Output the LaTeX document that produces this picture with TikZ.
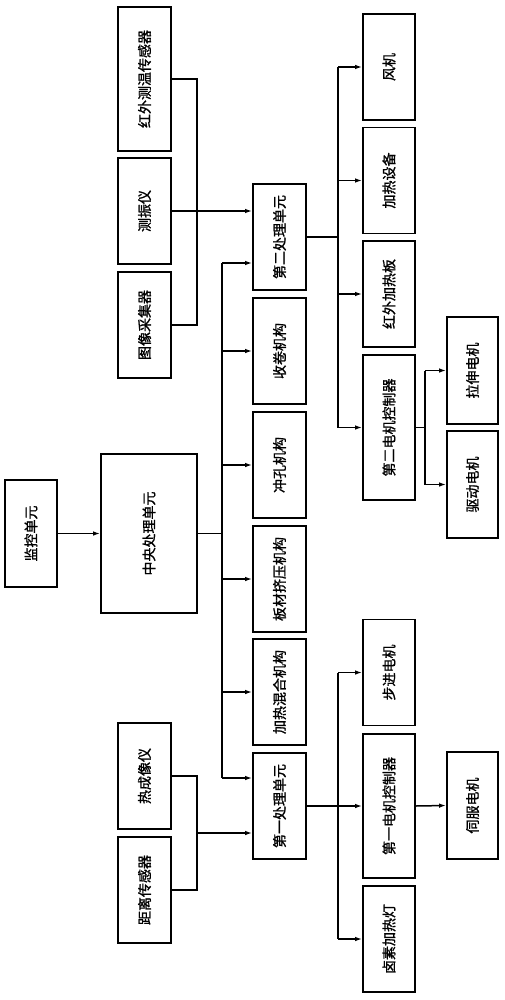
\documentclass[tikz,border=0pt]{standalone}
\usepackage{fontspec}
\newfontfamily\cjk[FakeBold=1.2]{Noto Sans CJK SC}
\usetikzlibrary{arrows.meta}
\begin{document}
\begin{tikzpicture}[x=1pt,y=-1pt,
  box/.style={draw,line width=1.7pt,inner sep=0pt,font=\cjk\fontsize{14}{15}\selectfont},
  ln/.style={line width=1.5pt},
  arr/.style={line width=1.5pt,-{Latex[length=7pt,width=4.5pt]}}]
\fill[white] (0,0) rectangle (504,1000);
\useasboundingbox (0,0) rectangle (504,1000);
% sensors
\node[box,minimum width=53pt,minimum height=144pt] (hw) at (144.5,79) {\rotatebox{90}{红外测温传感器}};
\node[box,minimum width=53pt,minimum height=106pt] (zhen) at (144.5,211) {\rotatebox{90}{测振仪}};
\node[box,minimum width=53pt,minimum height=106pt] (tx) at (144.5,325) {\rotatebox{90}{图像采集器}};
\node[box,minimum width=53pt,minimum height=106pt] (rc) at (144.5,776) {\rotatebox{90}{热成像仪}};
\node[box,minimum width=53pt,minimum height=106pt] (jl) at (144.5,890) {\rotatebox{90}{距离传感器}};
% monitor & central
\node[box,minimum width=52pt,minimum height=107pt] (mon) at (31,533.5) {\rotatebox{90}{监控单元}};
\node[box,minimum width=96pt,minimum height=159pt] (cpu) at (149,533.5) {\rotatebox{90}{中央处理单元}};
% column 2
\node[box,minimum width=53pt,minimum height=106pt] (p2) at (279.5,237) {\rotatebox{90}{第二处理单元}};
\node[box,minimum width=53pt,minimum height=106pt] (sj) at (279.5,351) {\rotatebox{90}{收卷机构}};
\node[box,minimum width=53pt,minimum height=106pt] (ck) at (279.5,465) {\rotatebox{90}{冲孔机构}};
\node[box,minimum width=53pt,minimum height=106pt] (bc) at (279.5,579) {\rotatebox{90}{板材挤压机构}};
\node[box,minimum width=53pt,minimum height=106pt] (jr) at (279.5,692) {\rotatebox{90}{加热混合机构}};
\node[box,minimum width=53pt,minimum height=106pt] (p1) at (279.5,806) {\rotatebox{90}{第一处理单元}};
% column 3
\node[box,minimum width=52pt,minimum height=106pt] (fj) at (389,67) {\rotatebox{90}{风机}};
\node[box,minimum width=52pt,minimum height=106pt] (jrsb) at (389,180.5) {\rotatebox{90}{加热设备}};
\node[box,minimum width=52pt,minimum height=106pt] (hwb) at (389,294) {\rotatebox{90}{红外加热板}};
\node[box,minimum width=52pt,minimum height=145pt] (mc2) at (389,427.5) {\rotatebox{90}{第二电机控制器}};
\node[box,minimum width=52pt,minimum height=106pt] (bj) at (389,672.5) {\rotatebox{90}{步进电机}};
\node[box,minimum width=52pt,minimum height=144pt] (mc1) at (389,806) {\rotatebox{90}{第一电机控制器}};
\node[box,minimum width=52pt,minimum height=106pt] (ls) at (389,939) {\rotatebox{90}{卤素加热灯}};
% column 4
\node[box,minimum width=51pt,minimum height=107pt] (lsdj) at (472.5,370.5) {\rotatebox{90}{拉伸电机}};
\node[box,minimum width=51pt,minimum height=107pt] (qd) at (472.5,484.5) {\rotatebox{90}{驱动电机}};
\node[box,minimum width=51pt,minimum height=107pt] (sf) at (472.5,805.5) {\rotatebox{90}{伺服电机}};
% junction coordinates
\coordinate (j1) at (197,0);
\coordinate (b1) at (222,0);
\coordinate (b2) at (338,0);
\coordinate (b3) at (425,0);
% connectors
\draw[ln] (hw.east) -- (j1|-hw.east) -- (j1|-tx.east) -- (tx.east);
\draw[arr] (zhen.east) -- (p2.west|-zhen.east);
\draw[ln] (rc.east) -- (j1|-rc.east) -- (j1|-jl.east) -- (jl.east);
\draw[arr] (j1|-0,833) -- (p1.west|-0,833);
\draw[arr] (mon.east) -- (cpu.west);
\draw[ln] (cpu.east) -- (b1|-cpu.east);
\draw[ln] (b1|-0,263) -- (b1|-0,778);
\draw[arr] (b1|-0,263) -- (p2.west|-0,263);
\draw[arr] (b1|-sj.west) -- (sj.west);
\draw[arr] (b1|-ck.west) -- (ck.west);
\draw[arr] (b1|-bc.west) -- (bc.west);
\draw[arr] (b1|-jr.west) -- (jr.west);
\draw[arr] (b1|-0,778) -- (p1.west|-0,778);
% second processing unit
\draw[ln] (p2.east) -- (b2|-p2.east);
\draw[ln] (b2|-fj.west) -- (b2|-mc2.west);
\draw[arr] (b2|-fj.west) -- (fj.west);
\draw[arr] (b2|-jrsb.west) -- (jrsb.west);
\draw[arr] (b2|-hwb.west) -- (hwb.west);
\draw[arr] (b2|-mc2.west) -- (mc2.west);
\draw[ln] (mc2.east) -- (b3|-mc2.east);
\draw[ln] (b3|-lsdj.west) -- (b3|-qd.west);
\draw[arr] (b3|-lsdj.west) -- (lsdj.west);
\draw[arr] (b3|-qd.west) -- (qd.west);
% first processing unit
\draw[ln] (b2|-bj.west) -- (b2|-ls.west);
\draw[arr] (p1.east) -- (mc1.west);
\draw[arr] (b2|-bj.west) -- (bj.west);
\draw[arr] (b2|-ls.west) -- (ls.west);
\draw[arr] (mc1.east) -- (sf.west);
\end{tikzpicture}
\end{document}
